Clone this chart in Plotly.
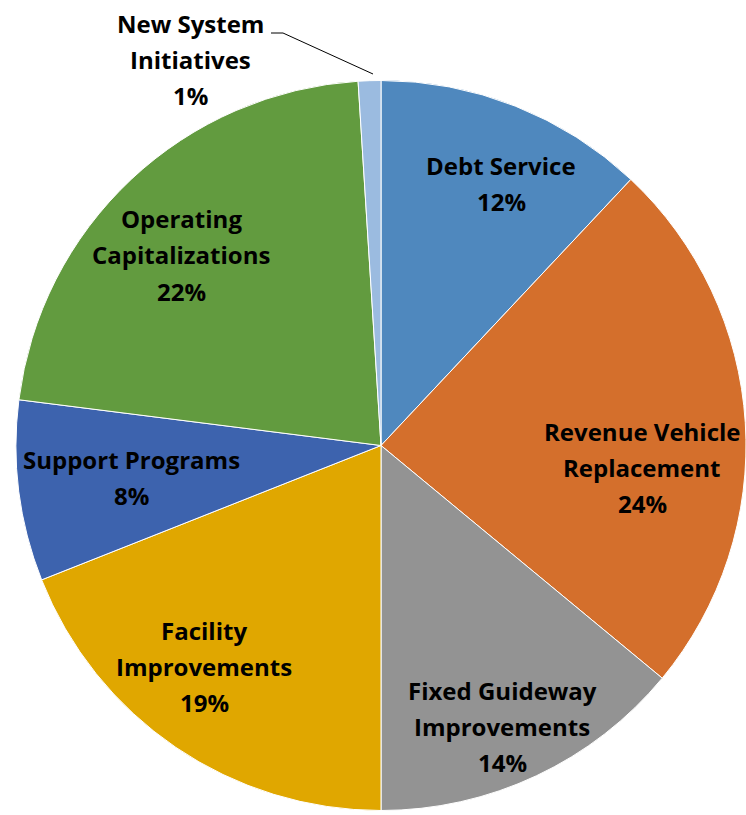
import plotly.graph_objects as go

categories = ['Debt Service', 'Revenue Vehicle Replacement', 'Fixed Guideway Improvements',
              'Facility Improvements', 'Support Programs', 'Operating Capitalizations',
              'New System Initiatives']
shares = [12, 24, 14, 19, 8, 22, 1]
colors = ['#4F88BE', '#D46F2C', '#939393', '#E0A700', '#3D63AE', '#629B3F', '#9BBBE0']

# label lines for each slice, and where the middle line sits (pixels)
label_lines = [
    ['Debt Service', '12%'],
    ['Revenue Vehicle', 'Replacement', '24%'],
    ['Fixed Guideway', 'Improvements', '14%'],
    ['Facility', 'Improvements', '19%'],
    ['Support Programs', '8%'],
    ['Operating', 'Capitalizations', '22%'],
    ['New System', 'Initiatives', '1%'],
]
label_pos = [(501, 183), (642, 467), (502, 726), (204, 666), (131, 478), (181, 255), (190, 59)]

W, H = 746, 815
LINE = 36

fig = go.Figure(go.Pie(
    labels=categories, values=shares, sort=False, direction='clockwise', rotation=0,
    marker=dict(colors=colors, line=dict(color='white', width=1)),
    textinfo='none', hoverinfo='label+percent',
    domain=dict(x=[16 / W, 1], y=[0, 1 - 76 / H]),
))

for lines, (px_, py_) in zip(label_lines, label_pos):
    n = len(lines)
    mid = (n - 1) / 2
    for i, t in enumerate(lines):
        fig.add_annotation(
            x=px_ / W, y=1 - py_ / H, xref='paper', yref='paper',
            text=t, showarrow=False, xanchor='center', yanchor='middle',
            yshift=-(i - mid) * LINE,
            font=dict(family='Open Sans', size=24, color='black', weight='bold'),
        )

# leader line for the 1% slice
fig.add_shape(type='path', xref='paper', yref='paper',
              path=f'M {271 / W} {1 - 33 / H} L {283 / W} {1 - 33 / H} L {373 / W} {1 - 74 / H}',
              line=dict(color='black', width=1))

fig.update_layout(width=W, height=H, margin=dict(l=0, r=0, t=0, b=0),
                  showlegend=False, paper_bgcolor='white')
fig.write_html('out.html', config={'displayModeBar': False},
               post_script="document.body.style.margin='0';document.body.style.overflow='hidden';")
